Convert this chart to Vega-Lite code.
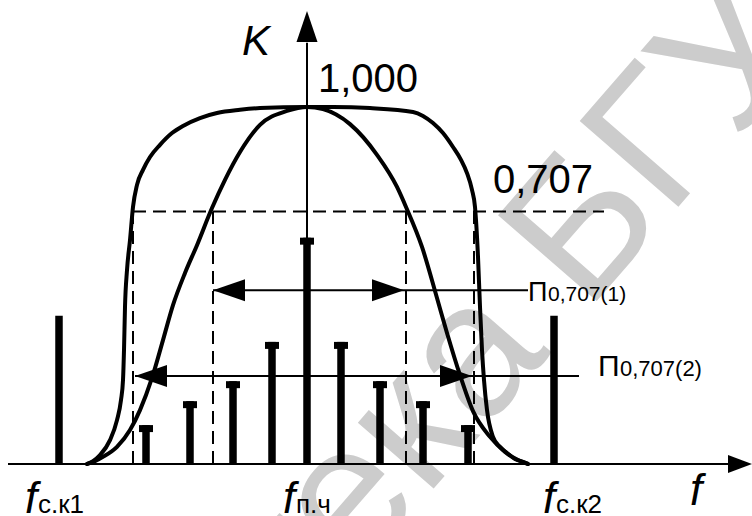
{
  "$schema": "https://vega.github.io/schema/vega-lite/v6.json",
  "width": 752,
  "height": 516,
  "padding": 0,
  "autosize": {"type": "none"},
  "background": "white",
  "config": {"view": {"stroke": null}},
  "datasets": {
    "curves": [
      {"curve": "single", "f": -220, "k": 0},
      {"curve": "single", "f": -212, "k": 0.008},
      {"curve": "single", "f": -204, "k": 0.02},
      {"curve": "single", "f": -190, "k": 0.048},
      {"curve": "single", "f": -177, "k": 0.095},
      {"curve": "single", "f": -167, "k": 0.151},
      {"curve": "single", "f": -155, "k": 0.241},
      {"curve": "single", "f": -144, "k": 0.347},
      {"curve": "single", "f": -134, "k": 0.445},
      {"curve": "single", "f": -122, "k": 0.535},
      {"curve": "single", "f": -110, "k": 0.613},
      {"curve": "single", "f": -95, "k": 0.717},
      {"curve": "single", "f": -82, "k": 0.796},
      {"curve": "single", "f": -67, "k": 0.874},
      {"curve": "single", "f": -47, "k": 0.95},
      {"curve": "single", "f": -20, "k": 0.989},
      {"curve": "single", "f": 0, "k": 1.0},
      {"curve": "single", "f": 16, "k": 0.994},
      {"curve": "single", "f": 43, "k": 0.952},
      {"curve": "single", "f": 70, "k": 0.866},
      {"curve": "single", "f": 90, "k": 0.776},
      {"curve": "single", "f": 99, "k": 0.72},
      {"curve": "single", "f": 115, "k": 0.608},
      {"curve": "single", "f": 130, "k": 0.465},
      {"curve": "single", "f": 140, "k": 0.367},
      {"curve": "single", "f": 153, "k": 0.249},
      {"curve": "single", "f": 166, "k": 0.148},
      {"curve": "single", "f": 183, "k": 0.076},
      {"curve": "single", "f": 198, "k": 0.034},
      {"curve": "single", "f": 211, "k": 0.011},
      {"curve": "single", "f": 221, "k": 0},
      {"curve": "coupled", "f": -220, "k": 0},
      {"curve": "coupled", "f": -214, "k": 0.008},
      {"curve": "coupled", "f": -207, "k": 0.025},
      {"curve": "coupled", "f": -197, "k": 0.067},
      {"curve": "coupled", "f": -190, "k": 0.123},
      {"curve": "coupled", "f": -186, "k": 0.179},
      {"curve": "coupled", "f": -184, "k": 0.235},
      {"curve": "coupled", "f": -183, "k": 0.319},
      {"curve": "coupled", "f": -182, "k": 0.44},
      {"curve": "coupled", "f": -180, "k": 0.543},
      {"curve": "coupled", "f": -177, "k": 0.627},
      {"curve": "coupled", "f": -174, "k": 0.72},
      {"curve": "coupled", "f": -170, "k": 0.782},
      {"curve": "coupled", "f": -164, "k": 0.824},
      {"curve": "coupled", "f": -157, "k": 0.86},
      {"curve": "coupled", "f": -147, "k": 0.894},
      {"curve": "coupled", "f": -135, "k": 0.927},
      {"curve": "coupled", "f": -124, "k": 0.947},
      {"curve": "coupled", "f": -107, "k": 0.969},
      {"curve": "coupled", "f": -90, "k": 0.983},
      {"curve": "coupled", "f": -67, "k": 0.992},
      {"curve": "coupled", "f": -47, "k": 0.997},
      {"curve": "coupled", "f": 0, "k": 1.0},
      {"curve": "coupled", "f": 26, "k": 1.0},
      {"curve": "coupled", "f": 63, "k": 0.997},
      {"curve": "coupled", "f": 106, "k": 0.986},
      {"curve": "coupled", "f": 116, "k": 0.975},
      {"curve": "coupled", "f": 126, "k": 0.955},
      {"curve": "coupled", "f": 136, "k": 0.927},
      {"curve": "coupled", "f": 146, "k": 0.888},
      {"curve": "coupled", "f": 154, "k": 0.852},
      {"curve": "coupled", "f": 160, "k": 0.815},
      {"curve": "coupled", "f": 165, "k": 0.768},
      {"curve": "coupled", "f": 168, "k": 0.72},
      {"curve": "coupled", "f": 171, "k": 0.58},
      {"curve": "coupled", "f": 173, "k": 0.44},
      {"curve": "coupled", "f": 175, "k": 0.319},
      {"curve": "coupled", "f": 177, "k": 0.235},
      {"curve": "coupled", "f": 180, "k": 0.151},
      {"curve": "coupled", "f": 186, "k": 0.076},
      {"curve": "coupled", "f": 193, "k": 0.048},
      {"curve": "coupled", "f": 200, "k": 0.031},
      {"curve": "coupled", "f": 208, "k": 0.014},
      {"curve": "coupled", "f": 216, "k": 0.006},
      {"curve": "coupled", "f": 221, "k": 0}
    ],
    "spectrum": [
      {"f": -248, "a": 0.415, "kind": "carrier"},
      {"f": -161, "a": 0.109, "kind": "side"},
      {"f": -117, "a": 0.176, "kind": "side"},
      {"f": -74, "a": 0.232, "kind": "side"},
      {"f": -35, "a": 0.342, "kind": "side"},
      {"f": 0, "a": 0.634, "kind": "side"},
      {"f": 34, "a": 0.342, "kind": "side"},
      {"f": 73, "a": 0.232, "kind": "side"},
      {"f": 116, "a": 0.176, "kind": "side"},
      {"f": 161, "a": 0.109, "kind": "side"},
      {"f": 247, "a": 0.415, "kind": "carrier"}
    ],
    "dashed": [
      {"f": -174, "k": 0.707, "f2": 297, "k2": 0.707},
      {"f": -174, "k": 0, "f2": -174, "k2": 0.707},
      {"f": -94, "k": 0, "f2": -94, "k2": 0.707},
      {"f": 99, "k": 0, "f2": 99, "k2": 0.707},
      {"f": 167, "k": 0, "f2": 167, "k2": 0.707}
    ],
    "lines": [
      {"f": -299, "k": 0, "f2": 425, "k2": 0},
      {"f": 0, "k": 0, "f2": 0, "k2": 1.18},
      {"f": -94, "k": 0.487, "f2": 221, "k2": 0.487},
      {"f": -172, "k": 0.2465, "f2": 272, "k2": 0.2465}
    ],
    "heads": [
      {"f": 445, "k": 0, "dir": "axis-f"},
      {"f": 0, "k": 1.269, "dir": "axis-k"},
      {"f": -94, "k": 0.487, "dir": "left"},
      {"f": 97, "k": 0.487, "dir": "right"},
      {"f": -172, "k": 0.2465, "dir": "left"},
      {"f": 165, "k": 0.2465, "dir": "right"}
    ]
  },
  "encoding": {
    "x": {"field": "f", "type": "quantitative", "scale": {"domain": [-307, 445], "nice": false, "zero": false}, "axis": null},
    "y": {"field": "k", "type": "quantitative", "scale": {"domain": [-0.14566, 1.29972], "nice": false, "zero": false}, "axis": null}
  },
  "layer": [
    {
      "data": {"values": [{"f": 508, "k": 1.16, "text": "Библиотека БГУ"}]},
      "mark": {"type": "text", "font": "Liberation Sans", "fontSize": 190, "color": "#cccccc", "angle": -49, "align": "right", "baseline": "alphabetic"},
      "encoding": {"text": {"field": "text"}}
    },
    {
      "data": {"name": "dashed"},
      "mark": {"type": "rule", "color": "black", "strokeWidth": 2, "strokeDash": [13, 7]},
      "encoding": {"x2": {"field": "f2"}, "y2": {"field": "k2"}}
    },
    {
      "data": {"name": "lines"},
      "mark": {"type": "rule", "color": "black", "strokeWidth": 2},
      "encoding": {"x2": {"field": "f2"}, "y2": {"field": "k2"}}
    },
    {
      "data": {"name": "spectrum"},
      "mark": {"type": "rule", "color": "black", "strokeWidth": 7.5},
      "encoding": {"y": {"field": "a", "type": "quantitative"}, "y2": {"datum": 0}}
    },
    {
      "data": {"name": "spectrum"},
      "transform": [{"filter": "datum.kind === 'side'"}],
      "mark": {"type": "tick", "orient": "horizontal", "color": "black", "opacity": 1, "size": 14, "thickness": 7, "yOffset": 3.5},
      "encoding": {"y": {"field": "a", "type": "quantitative"}}
    },
    {
      "data": {"name": "curves"},
      "mark": {"type": "line", "color": "black", "strokeWidth": 4, "interpolate": "monotone", "strokeCap": "round", "strokeJoin": "round"},
      "encoding": {"detail": {"field": "curve", "type": "nominal"}}
    },
    {
      "data": {"name": "heads"},
      "mark": {"type": "point", "filled": true, "color": "black", "opacity": 1, "size": 4, "strokeWidth": 0},
      "encoding": {
        "shape": {
          "field": "dir",
          "type": "nominal",
          "legend": null,
          "scale": {
            "domain": ["axis-f", "axis-k", "left", "right"],
            "range": ["M0,0L-24,-9L-24,9Z", "M0,0L-10.5,31L10.5,31Z", "M0,0L32,-11L32,11Z", "M0,0L-32,-11L-32,11Z"]
          }
        }
      }
    },
    {
      "data": {"values": [
        {"f": 11, "k": 1.042, "text": "1,000"},
        {"f": 186, "k": 0.759, "text": "0,707"}
      ]},
      "mark": {"type": "text", "font": "Liberation Sans", "fontSize": 40, "align": "left", "baseline": "alphabetic", "color": "black"},
      "encoding": {"text": {"field": "text"}}
    },
    {
      "data": {"values": [{"f": -65, "k": 1.1457, "text": "K"}]},
      "mark": {"type": "text", "font": "Liberation Sans", "fontSize": 42, "fontStyle": "italic", "align": "left", "baseline": "alphabetic", "color": "black"},
      "encoding": {"text": {"field": "text"}}
    },
    {
      "data": {"values": [
        {"f": -282, "k": -0.137, "text": "f"},
        {"f": -24, "k": -0.137, "text": "f"},
        {"f": 236, "k": -0.137, "text": "f"},
        {"f": 383, "k": -0.115, "text": "f"}
      ]},
      "mark": {"type": "text", "font": "Liberation Sans", "fontSize": 44, "fontStyle": "italic", "align": "left", "baseline": "alphabetic", "color": "black"},
      "encoding": {"text": {"field": "text"}}
    },
    {
      "data": {"values": [
        {"f": -282, "k": -0.137, "text": "с.к1"},
        {"f": -24, "k": -0.137, "text": "п.ч"},
        {"f": 236, "k": -0.137, "text": "с.к2"}
      ]},
      "mark": {"type": "text", "font": "Liberation Sans", "fontSize": 26, "align": "left", "baseline": "alphabetic", "color": "black", "dx": 13},
      "encoding": {"text": {"field": "text"}}
    },
    {
      "data": {"values": [{"f": 221, "k": 0.4566, "text": "П"}]},
      "mark": {"type": "text", "font": "Liberation Sans", "fontSize": 27, "align": "left", "baseline": "alphabetic", "color": "black"},
      "encoding": {"text": {"field": "text"}}
    },
    {
      "data": {"values": [{"f": 221, "k": 0.4566, "text": "0,707(1)"}]},
      "mark": {"type": "text", "font": "Liberation Sans", "fontSize": 21, "align": "left", "baseline": "alphabetic", "color": "black", "dx": 20},
      "encoding": {"text": {"field": "text"}}
    },
    {
      "data": {"values": [{"f": 291, "k": 0.2465, "text": "П"}]},
      "mark": {"type": "text", "font": "Liberation Sans", "fontSize": 30, "align": "left", "baseline": "alphabetic", "color": "black"},
      "encoding": {"text": {"field": "text"}}
    },
    {
      "data": {"values": [{"f": 291, "k": 0.2465, "text": "0,707(2)"}]},
      "mark": {"type": "text", "font": "Liberation Sans", "fontSize": 22, "align": "left", "baseline": "alphabetic", "color": "black", "dx": 22},
      "encoding": {"text": {"field": "text"}}
    }
  ]
}
